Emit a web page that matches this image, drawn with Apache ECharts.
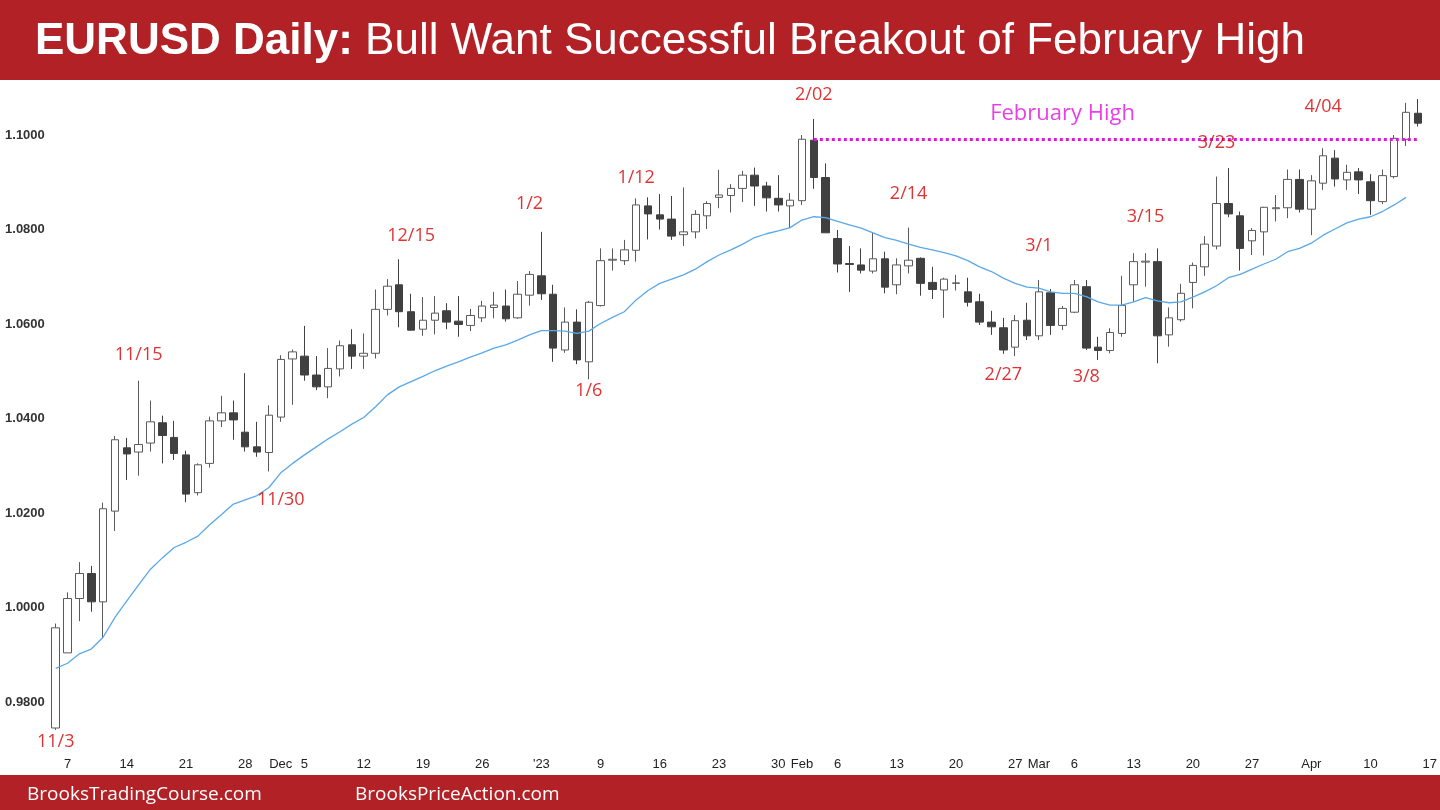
<!DOCTYPE html>
<html><head><meta charset="utf-8">
<script src="https://cdn.jsdelivr.net/npm/echarts/dist/echarts.min.js"></script>
<style>html,body{margin:0;padding:0;background:#fff}#c{width:1440px;height:810px}</style>
</head><body><div id="c"></div>
<script>
const dates = [
'2022-11-04',
'2022-11-07','2022-11-08','2022-11-09','2022-11-10','2022-11-11',
'2022-11-14','2022-11-15','2022-11-16','2022-11-17','2022-11-18',
'2022-11-21','2022-11-22','2022-11-23','2022-11-24','2022-11-25',
'2022-11-28','2022-11-29','2022-11-30','2022-12-01','2022-12-02',
'2022-12-05','2022-12-06','2022-12-07','2022-12-08','2022-12-09',
'2022-12-12','2022-12-13','2022-12-14','2022-12-15','2022-12-16',
'2022-12-19','2022-12-20','2022-12-21','2022-12-22','2022-12-23',
'2022-12-26','2022-12-27','2022-12-28','2022-12-29','2022-12-30',
'2023-01-02','2023-01-03','2023-01-04','2023-01-05','2023-01-06',
'2023-01-09','2023-01-10','2023-01-11','2023-01-12','2023-01-13',
'2023-01-16','2023-01-17','2023-01-18','2023-01-19','2023-01-20',
'2023-01-23','2023-01-24','2023-01-25','2023-01-26','2023-01-27',
'2023-01-30','2023-01-31','2023-02-01','2023-02-02','2023-02-03',
'2023-02-06','2023-02-07','2023-02-08','2023-02-09','2023-02-10',
'2023-02-13','2023-02-14','2023-02-15','2023-02-16','2023-02-17',
'2023-02-20','2023-02-21','2023-02-22','2023-02-23','2023-02-24',
'2023-02-27','2023-02-28','2023-03-01','2023-03-02','2023-03-03',
'2023-03-06','2023-03-07','2023-03-08','2023-03-09','2023-03-10',
'2023-03-13','2023-03-14','2023-03-15','2023-03-16','2023-03-17',
'2023-03-20','2023-03-21','2023-03-22','2023-03-23','2023-03-24',
'2023-03-27','2023-03-28','2023-03-29','2023-03-30','2023-03-31',
'2023-04-03','2023-04-04','2023-04-05','2023-04-06','2023-04-07',
'2023-04-10','2023-04-11','2023-04-12','2023-04-13','2023-04-14',
'2023-04-17'
];
const opens = [
0.9745,
0.9904,1.0019,1.0072,1.0012,1.0204,
1.0338,1.0329,1.0348,1.0391,1.0360,
1.0323,1.0243,1.0305,1.0395,1.0412,
1.0371,1.0340,1.0328,1.0403,1.0526,
1.0532,1.0492,1.0467,1.0505,1.0556,
1.0532,1.0538,1.0631,1.0683,1.0626,
1.0589,1.0608,1.0628,1.0606,1.0597,
1.0613,1.0635,1.0638,1.0613,1.0661,
1.0702,1.0663,1.0545,1.0604,1.0520,
1.0639,1.0735,1.0734,1.0756,1.0850,
1.0831,1.0822,1.0789,1.0795,1.0829,
1.0868,1.0872,1.0887,1.0915,1.0892,
1.0866,1.0850,1.0861,1.0989,1.0910,
1.0781,1.0728,1.0725,1.0712,1.0738,
1.0683,1.0723,1.0739,1.0688,1.0672,
1.0686,1.0668,1.0647,1.0604,1.0592,
1.0551,1.0608,1.0575,1.0666,1.0597,
1.0625,1.0679,1.0551,1.0544,1.0580,
1.0683,1.0731,1.0732,1.0577,1.0609,
1.0688,1.0721,1.0765,1.0855,1.0829,
1.0776,1.0795,1.0844,1.0846,1.0906,
1.0843,1.0898,1.0951,1.0905,1.0922,
1.0901,1.0859,1.0912,1.0991,1.1046
];
const closes = [
0.9957,
1.0019,1.0072,1.0012,1.0209,1.0355,
1.0325,1.0345,1.0393,1.0364,1.0326,
1.0240,1.0302,1.0395,1.0412,1.0397,
1.0340,1.0329,1.0407,1.0525,1.0541,
1.0492,1.0467,1.0506,1.0554,1.0532,
1.0538,1.0631,1.0680,1.0626,1.0587,
1.0608,1.0623,1.0604,1.0599,1.0618,
1.0638,1.0640,1.0611,1.0663,1.0705,
1.0664,1.0549,1.0604,1.0524,1.0646,
1.0734,1.0737,1.0757,1.0852,1.0833,
1.0822,1.0786,1.0795,1.0832,1.0855,
1.0873,1.0887,1.0915,1.0892,1.0867,
1.0852,1.0862,1.0991,1.0910,1.0793,
1.0727,1.0726,1.0714,1.0738,1.0678,
1.0725,1.0735,1.0686,1.0673,1.0695,
1.0687,1.0646,1.0604,1.0594,1.0545,
1.0607,1.0575,1.0668,1.0597,1.0633,
1.0683,1.0549,1.0544,1.0582,1.0639,
1.0732,1.0733,1.0575,1.0613,1.0665,
1.0724,1.0769,1.0855,1.0833,1.0760,
1.0798,1.0847,1.0846,1.0906,1.0843,
1.0903,1.0956,1.0907,1.0921,1.0905,
1.0861,1.0914,1.0993,1.1048,1.1025
];
const lows = [
0.9741,
0.9904,0.9971,0.9991,0.9935,1.0162,
1.0270,1.0279,1.0330,1.0305,1.0312,
1.0223,1.0237,1.0296,1.0382,1.0355,
1.0330,1.0319,1.0288,1.0393,1.0429,
1.0480,1.0460,1.0443,1.0489,1.0505,
1.0505,1.0527,1.0618,1.0593,1.0586,
1.0575,1.0578,1.0589,1.0573,1.0585,
1.0604,1.0612,1.0605,1.0611,1.0639,
1.0651,1.0520,1.0539,1.0515,1.0483,
1.0637,1.0713,1.0725,1.0732,1.0779,
1.0800,1.0778,1.0765,1.0781,1.0801,
1.0845,1.0836,1.0858,1.0850,1.0838,
1.0838,1.0803,1.0852,1.0886,1.0793,
1.0709,1.0668,1.0707,1.0707,1.0665,
1.0663,1.0707,1.0660,1.0653,1.0613,
1.0671,1.0637,1.0598,1.0577,1.0537,
1.0532,1.0566,1.0566,1.0577,1.0587,
1.0623,1.0545,1.0524,1.0538,1.0573,
1.0647,1.0679,1.0517,1.0552,1.0605,
1.0633,1.0702,1.0758,1.0826,1.0713,
1.0746,1.0745,1.0817,1.0824,1.0836,
1.0788,1.0884,1.0891,1.0884,1.0875,
1.0831,1.0854,1.0908,1.0977,1.1018
];
const highs = [
0.9966,
1.0032,1.0096,1.0088,1.0222,1.0363,
1.0359,1.0480,1.0438,1.0406,1.0395,
1.0332,1.0305,1.0404,1.0448,1.0438,
1.0496,1.0393,1.0428,1.0534,1.0546,
1.0596,1.0532,1.0549,1.0565,1.0589,
1.0580,1.0673,1.0695,1.0737,1.0664,
1.0657,1.0659,1.0644,1.0659,1.0632,
1.0649,1.0668,1.0673,1.0691,1.0712,
1.0795,1.0683,1.0635,1.0631,1.0649,
1.0760,1.0760,1.0778,1.0866,1.0868,
1.0875,1.0871,1.0889,1.0841,1.0860,
1.0926,1.0896,1.0924,1.0931,1.0901,
1.0915,1.0877,1.1000,1.1034,1.0940,
1.0799,1.0765,1.0760,1.0793,1.0753,
1.0739,1.0804,1.0741,1.0721,1.0698,
1.0704,1.0698,1.0664,1.0628,1.0613,
1.0619,1.0645,1.0693,1.0674,1.0638,
1.0693,1.0693,1.0573,1.0591,1.0702,
1.0750,1.0750,1.0760,1.0635,1.0685,
1.0730,1.0786,1.0912,1.0930,1.0838,
1.0803,1.0848,1.0873,1.0927,1.0927,
1.0915,1.0972,1.0968,1.0937,1.0930,
1.0917,1.0927,1.1000,1.1068,1.1076
];
const ema20 = [
0.9871,
0.9882,0.9902,0.9912,0.9937,0.9979,
1.0014,1.0048,1.0081,1.0105,1.0127,
1.0138,1.0151,1.0175,1.0197,1.0219,
1.0228,1.0237,1.0254,1.0285,1.0305,
1.0323,1.0340,1.0357,1.0372,1.0388,
1.0402,1.0425,1.0450,1.0467,1.0478,
1.0489,1.0501,1.0511,1.0520,1.0530,
1.0539,1.0549,1.0556,1.0566,1.0577,
1.0586,1.0586,1.0585,1.0580,1.0585,
1.0601,1.0614,1.0626,1.0651,1.0671,
1.0686,1.0695,1.0704,1.0716,1.0732,
1.0746,1.0757,1.0769,1.0783,1.0791,
1.0797,1.0804,1.0820,1.0827,1.0825,
1.0817,1.0810,1.0803,1.0793,1.0783,
1.0777,1.0769,1.0762,1.0757,1.0751,
1.0744,1.0734,1.0721,1.0711,1.0697,
1.0686,1.0678,1.0676,1.0668,1.0665,
1.0665,1.0658,1.0647,1.0640,1.0640,
1.0647,1.0656,1.0649,1.0645,1.0647,
1.0657,1.0668,1.0681,1.0698,1.0705,
1.0716,1.0727,1.0737,1.0753,1.0760,
1.0771,1.0788,1.0801,1.0814,1.0822,
1.0827,1.0838,1.0852,1.0868,'-'
];
const yTickLabels = ['0.9800','1.0000','1.0200','1.0400','1.0600','1.0800','1.1000'];
const xTickLabels = [
['2022-11-07','7'],['2022-11-14','14'],['2022-11-21','21'],['2022-11-28','28'],
['2022-12-01','Dec'],['2022-12-05','5'],['2022-12-12','12'],['2022-12-19','19'],['2022-12-26','26'],
['2023-01-02',"'23"],['2023-01-09','9'],['2023-01-16','16'],['2023-01-23','23'],['2023-01-30','30'],
['2023-02-01','Feb'],['2023-02-06','6'],['2023-02-13','13'],['2023-02-20','20'],['2023-02-27','27'],
['2023-03-01','Mar'],['2023-03-06','6'],['2023-03-13','13'],['2023-03-20','20'],['2023-03-27','27'],
['2023-04-03','Apr'],['2023-04-10','10'],['2023-04-17','17']
];
const swingNotes = [
['2022-11-04',0.9715,'11/3'],
['2022-11-15',1.0534,'11/15'],
['2022-12-01',1.0228,'11/30'],
['2022-12-16',1.0786,'12/15'],
['2022-12-30',1.0854,'1/2'],
['2023-01-06',1.0458,'1/6'],
['2023-01-12',1.0910,'1/12'],
['2023-02-02',1.1085,'2/02'],
['2023-02-14',1.0875,'2/14'],
['2023-03-01',1.0765,'3/1'],
['2023-02-24',1.0492,'2/27'],
['2023-03-07',1.0488,'3/8'],
['2023-03-14',1.0827,'3/15'],
['2023-03-22',1.0983,'3/23'],
['2023-04-04',1.1059,'4/04']
];
const levelNote = ['2023-03-03',1.1044,'February High'];
const febHigh = 1.0991;
const febHighFrom = '2023-02-02', febHighTo = '2023-04-14';

const candleData = opens.map((o,i)=>[o, closes[i], lows[i], highs[i]]);
const xTickMap = {}; xTickLabels.forEach(p=>{xTickMap[p[0]]=p[1];});

const chart = echarts.init(document.getElementById('c'), null, {renderer:'canvas'});
const RED = '#B12126';
chart.setOption({
  animation:false,
  backgroundColor:'#ffffff',
  grid:{left:49.8, right:3.7, top:87.75, bottom:60.75, containLabel:false},
  xAxis:{
    type:'category', data:dates, boundaryGap:true,
    axisLine:{show:false}, axisTick:{show:false}, splitLine:{show:false},
    axisLabel:{
      interval:(idx,val)=>xTickMap[val]!==undefined,
      formatter:(val)=>xTickMap[val]||'',
      fontFamily:'Liberation Sans, Arial, sans-serif', fontSize:13, color:'#222', margin:9
    }
  },
  yAxis:{
    type:'value', min:0.97, max:1.11, interval:0.01, scale:true,
    axisLine:{show:false}, axisTick:{show:false}, splitLine:{show:false},
    axisLabel:{
      formatter:(v)=>{const s=v.toFixed(4);return yTickLabels.includes(s)?s:'';},
      fontFamily:'Liberation Sans, Arial, sans-serif', fontSize:13, fontWeight:'bold', color:'#333', margin:5
    }
  },
  series:[
    {
      type:'candlestick', data:candleData, barWidth:8,
      itemStyle:{color:'#ffffff', color0:'#404040', borderColor:'#5a5a5a', borderColor0:'#404040', borderColorDoji:'#5a5a5a', borderWidth:1},
      markLine:{
        silent:true, symbol:['none','none'],
        label:{show:false},
        lineStyle:{color:'#DD18DD', width:3, type:[3,3]},
        data:[[{coord:[febHighFrom,febHigh]},{coord:[febHighTo,febHigh]}]]
      },
      z:2
    },
    {
      type:'line', data:ema20, symbol:'none', smooth:false,
      lineStyle:{color:'#5AA8E8', width:1.3}, z:3
    },
    {
      type:'scatter', symbol:'circle', symbolSize:1, itemStyle:{color:'rgba(0,0,0,0)'},
      data:swingNotes.map(n=>({value:[n[0],n[1]], name:n[2]})),
      label:{show:true, position:'inside', formatter:(p)=>p.name,
        fontFamily:'Open Sans, Noto Sans, sans-serif', fontSize:18, color:'#D40000'},
      z:5
    },
    {
      type:'scatter', symbol:'circle', symbolSize:1, itemStyle:{color:'rgba(0,0,0,0)'},
      data:[{value:[levelNote[0],levelNote[1]], name:levelNote[2]}],
      label:{show:true, position:'inside', formatter:(p)=>p.name,
        fontFamily:'Open Sans, Noto Sans, sans-serif', fontSize:22, color:'#E010E0'},
      z:5
    }
  ],
  graphic:[
    {type:'rect', shape:{x:0,y:0,width:1440,height:80}, style:{fill:RED}, z:10},
    {type:'text', x:35, y:42, z:11, style:{
      text:'{b|EURUSD Daily:}{r| Bull Want Successful Breakout of February High}',
      verticalAlign:'middle',
      rich:{
        b:{fontFamily:'Liberation Sans, Arial, sans-serif', fontWeight:'bold', fontSize:44, fill:'#ffffff', color:'#ffffff'},
        r:{fontFamily:'Liberation Sans, Arial, sans-serif', fontSize:44, fill:'#ffffff', color:'#ffffff'}
      }}},
    {type:'rect', shape:{x:0,y:775,width:1440,height:35}, style:{fill:RED}, z:10},
    {type:'text', x:27, y:795, z:11, style:{text:'BrooksTradingCourse.com', fill:'#ffffff', font:'19px "Open Sans", "Noto Sans", sans-serif', verticalAlign:'middle'}},
    {type:'text', x:355, y:795, z:11, style:{text:'BrooksPriceAction.com', fill:'#ffffff', font:'19px "Open Sans", "Noto Sans", sans-serif', verticalAlign:'middle'}}
  ]
});
</script>
</body></html>
